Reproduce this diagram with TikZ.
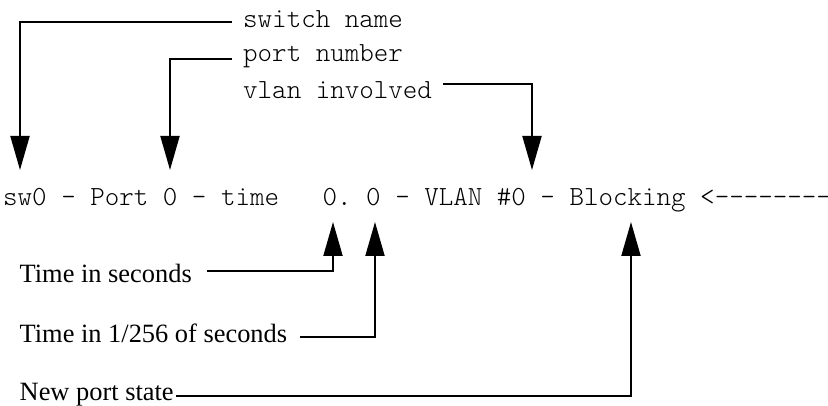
\documentclass[tikz,border=0pt]{standalone}
\usepackage{fontspec}
\setmainfont{Liberation Serif}
% light typewriter face at a fixed design size
\setmonofont{lmmonolt10-regular.otf}
\usetikzlibrary{arrows.meta}
\begin{document}
\begin{tikzpicture}[x=1pt,y=1pt,
  code/.style={font=\ttfamily\fontsize{27.66}{32}\selectfont, inner sep=0pt, anchor=base west},
  note/.style={font=\rmfamily\fontsize{26.4}{30}\selectfont, inner sep=0pt, anchor=base west},
  pointer/.style={line width=2pt, -{Triangle[length=34pt,width=19pt]}}]
\useasboundingbox (0,0) rectangle (828,406);

% the log line being explained
\node[code] (log) at (3,200) {sw0 - Port 0 - time\ \ \ 0. 0 - VLAN \#0 - Blocking <{-}{-}{-}{-}{-}{-}{-}{-}};

% field names above the line
\node[code] (swname) at (243,378) {switch name};
\node[code] (portno) at (243,344) {port number};
\node[code] (vlan)   at (243,307) {vlan involved};

% field descriptions below the line
\node[note] (tsec)   at (19.5,123) {Time in seconds};
\node[note] (tfrac)  at (19.5,63)  {Time in 1/256 of seconds};
\node[note] (pstate) at (19.5,5)   {New port state};

% leader start points and arrow tips
\coordinate (swnFrom)   at (232,384);
\coordinate (swnTip)    at (20,236);
\coordinate (portFrom)  at (232,347);
\coordinate (portTip)   at (170,236);
\coordinate (vlanFrom)  at (443,322);
\coordinate (vlanTip)   at (532,236);
\coordinate (secFrom)   at (207,135);
\coordinate (secTip)    at (333,184);
\coordinate (fracFrom)  at (300,69);
\coordinate (fracTip)   at (375,184);
\coordinate (stateFrom) at (176,10);
\coordinate (stateTip)  at (631,184);

\draw[pointer] (swnFrom)   -| (swnTip);
\draw[pointer] (portFrom)  -| (portTip);
\draw[pointer] (vlanFrom)  -| (vlanTip);
\draw[pointer] (secFrom)   -| (secTip);
\draw[pointer] (fracFrom)  -| (fracTip);
\draw[pointer] (stateFrom) -| (stateTip);
\end{tikzpicture}
\end{document}
